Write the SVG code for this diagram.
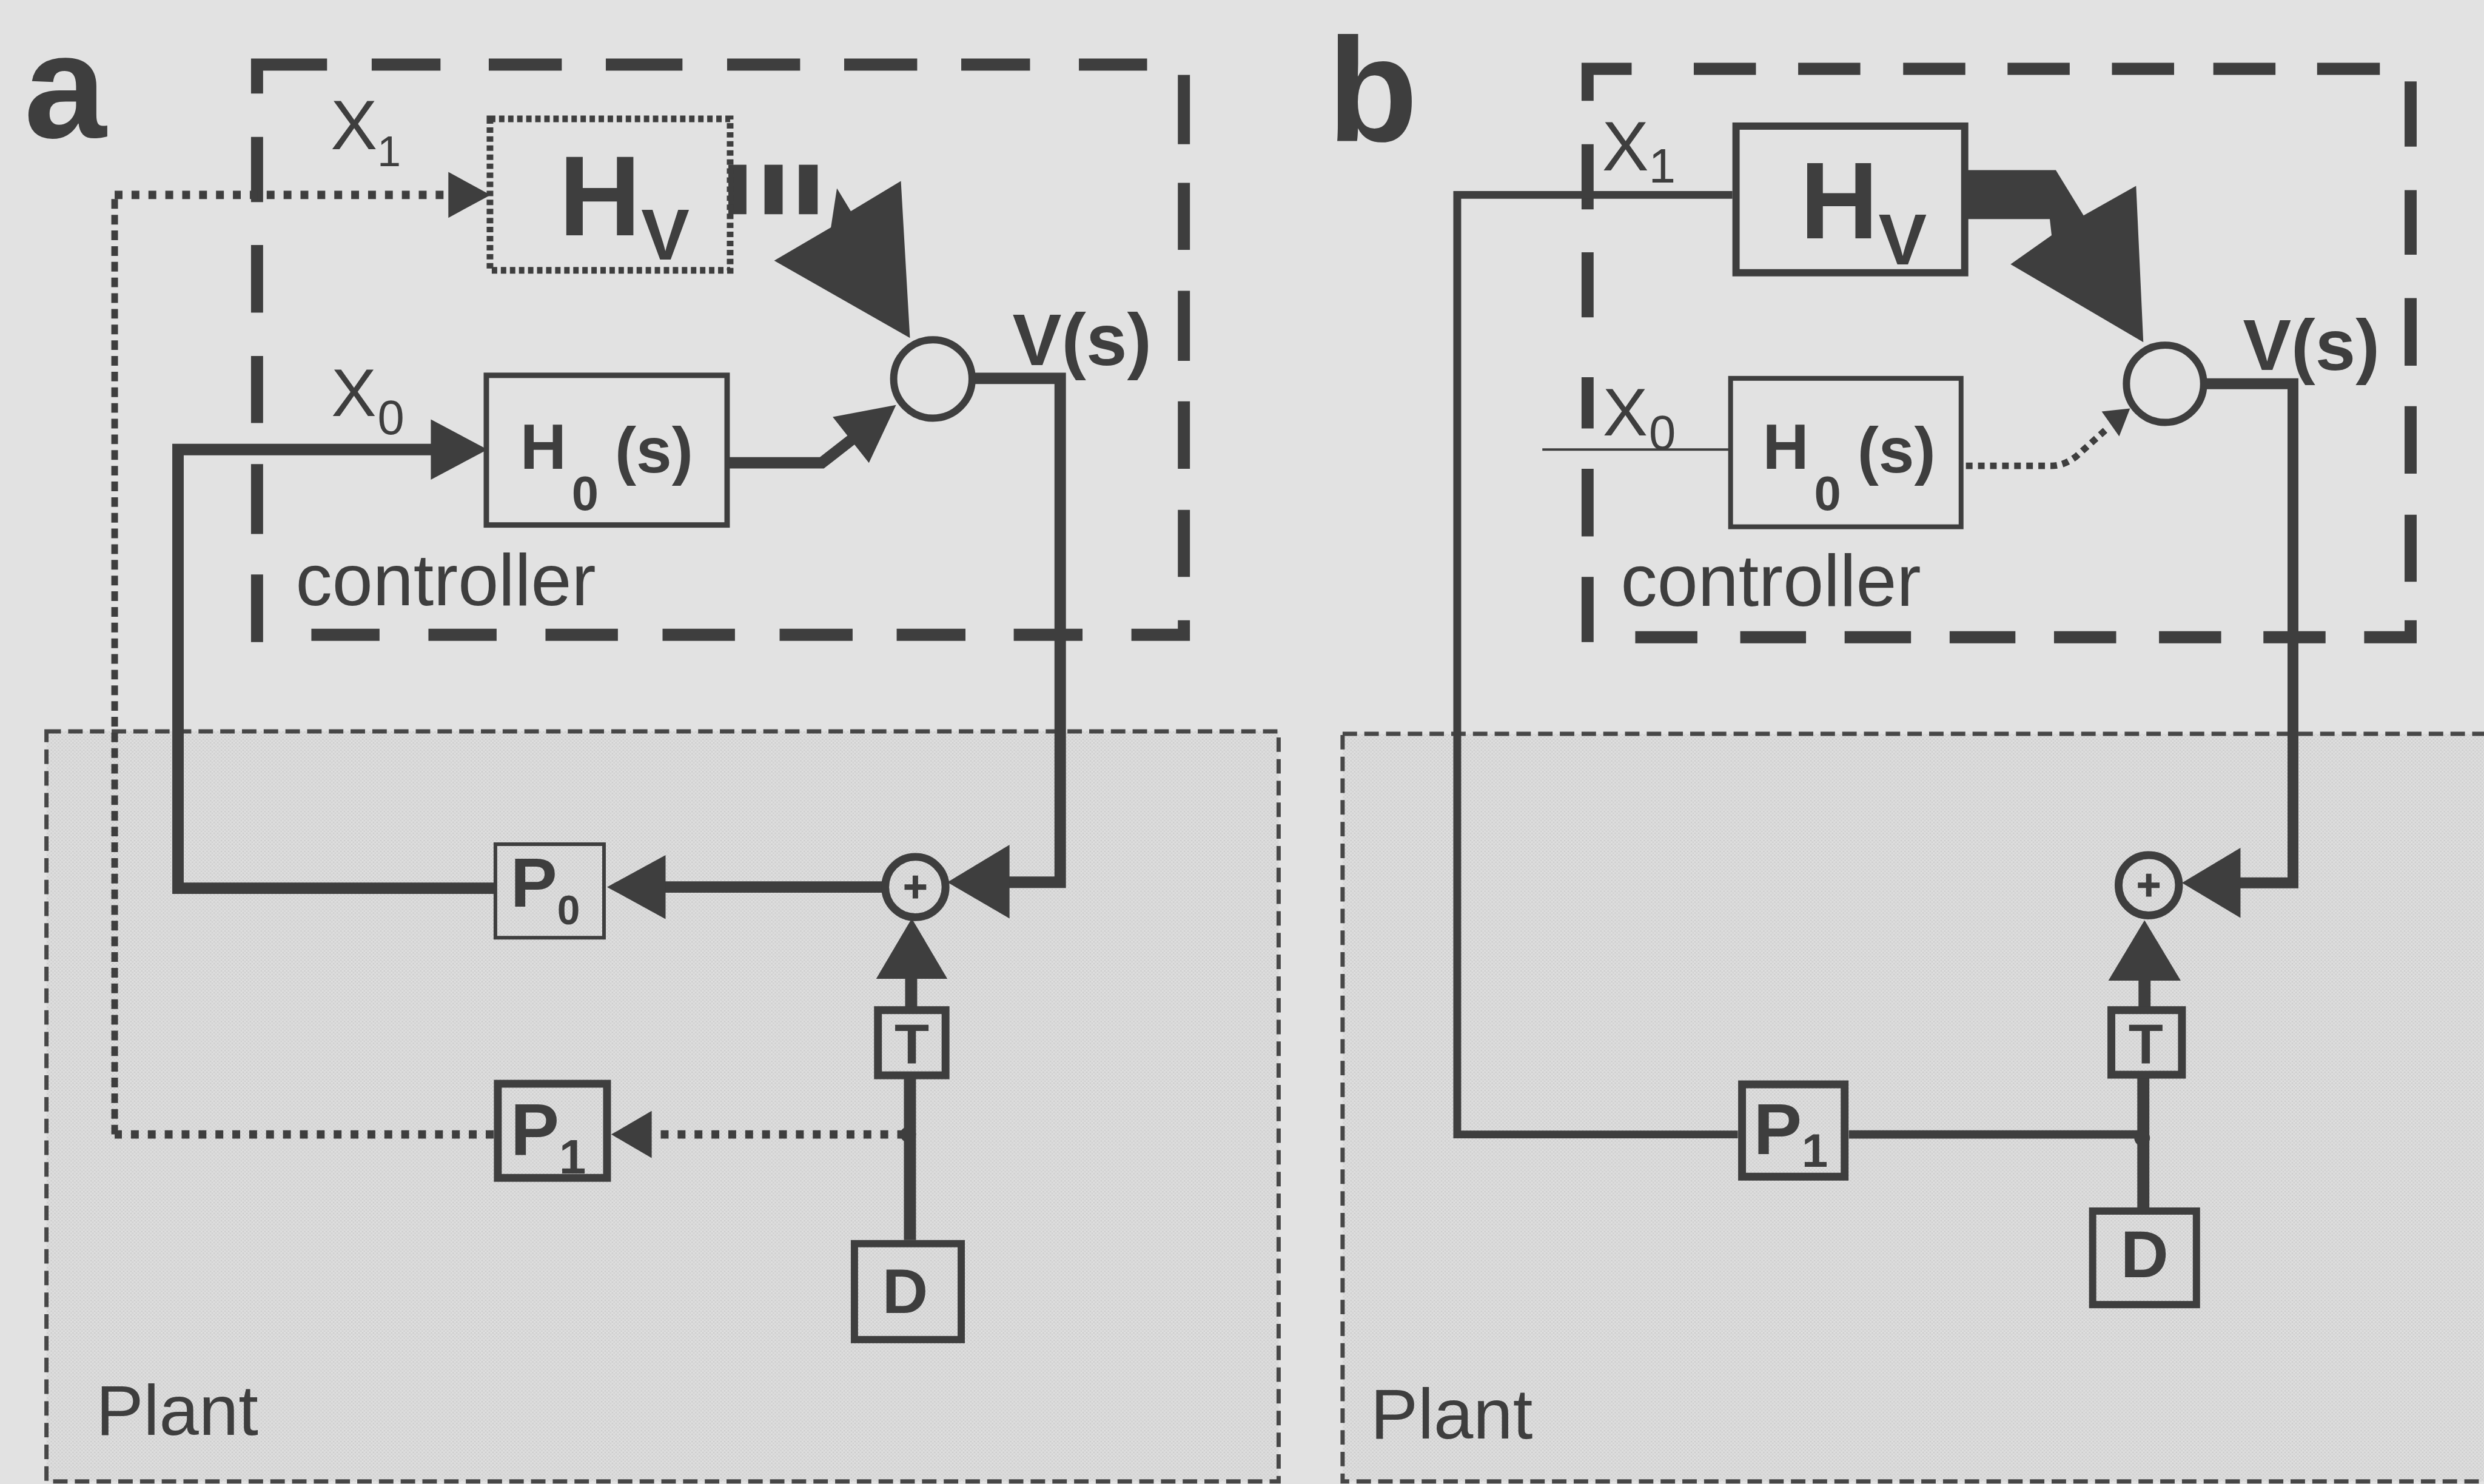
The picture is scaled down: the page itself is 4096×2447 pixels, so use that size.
<svg xmlns="http://www.w3.org/2000/svg" width="4096" height="2447" viewBox="0 0 4096 2447">
<defs>
<style>
.ink{fill:#3e3e3e;stroke:none}
.ln{fill:none;stroke:#3e3e3e;stroke-linejoin:miter;stroke-linecap:butt}
.ctl{fill:none;stroke:#3e3e3e;stroke-width:20;stroke-linecap:butt;stroke-linejoin:miter}
.plant{fill:url(#tex);stroke:#474747;stroke-width:7;stroke-dasharray:24 12}
.box{fill:none;stroke:#3e3e3e}
.t{font-family:"Liberation Sans",Arial,Helvetica,sans-serif;fill:#3e3e3e}
.bd{font-weight:bold}
</style>
<pattern id="tex" width="6" height="6" patternUnits="userSpaceOnUse">
<rect width="6" height="6" fill="#dadada"/>
<rect x="0" y="0" width="2" height="2" fill="#cbcbcb"/>
<rect x="3" y="3" width="2" height="2" fill="#cfcfcf"/>
<rect x="3" y="0" width="2" height="1" fill="#e4e4e4"/>
<rect x="0" y="3" width="1" height="2" fill="#e4e4e4"/>
</pattern>
</defs>
<rect width="4096" height="2447" fill="#e2e2e2"/>
<g transform="scale(0.995)">

<g id="plant-a"><rect class="plant" x="77" y="1212" width="2042" height="1243"/>
<text class="t" x="159" y="2378" font-size="118">Plant</text></g>
<g id="plant-b"><rect class="plant" x="2225" y="1216" width="1960" height="1239"/>
<text class="t" x="2271" y="2384" font-size="118">Plant</text></g>

<g id="controller-a">
<path class="ctl" d="M426,155 L426,107 L542,107 M616,107 L730,107 M810,107 L931,107 M1004,107 L1131,107 M1205,107 L1326,107 M1399,107 L1520,107 M1593,107 L1707,107 M1788,107 L1901,107 M1962,124 L1962,239 M1962,303 L1962,414 M1962,482 L1962,598 M1962,665 L1962,777 M1962,845 L1962,956 M1875,1052 L1962,1052 L1962,1028 M426,227 L426,335 M426,406 L426,518 M426,590 L426,701 M426,769 L426,885 M426,952 L426,1064 M516,1052 L629,1052 M710,1052 L823,1052 M904,1052 L1024,1052 M1098,1052 L1218,1052 M1292,1052 L1413,1052 M1486,1052 L1600,1052 M1680,1052 L1794,1052"/>
<text class="t" x="490" y="1003" font-size="121">controller</text>
</g>
<g id="controller-b">
<path class="ctl" d="M2631,167 L2631,114 L2704,114 M2807,114 L2910,114 M2980,114 L3083,114 M3154,114 L3257,114 M3327,114 L3430,114 M3500,114 L3603,114 M3668,114 L3771,114 M3840,114 L3944,114 M3995,135 L3995,243 M3995,315 L3995,422 M3995,494 L3995,606 M3995,673 L3995,785 M3995,853 L3995,964 M3918,1056 L3995,1056 L3995,1028 M2631,239 L2631,347 M2631,418 L2631,526 M2631,625 L2631,710 M2631,777 L2631,889 M2631,956 L2631,1064 M2710,1056 L2813,1056 M2884,1056 L2993,1056 M3057,1056 L3167,1056 M3231,1056 L3340,1056 M3404,1056 L3507,1056 M3578,1056 L3681,1056 M3751,1056 L3854,1056"/>
<text class="t" x="2686" y="1004" font-size="121">controller</text>
</g>

<g id="connectors">
<path class="ln" stroke-width="14" stroke-dasharray="13 15" d="M818,1880 L190,1880"/>
<path class="ln" stroke-width="11" stroke-dasharray="16 10" d="M190,1880 L190,323"/>
<path class="ln" stroke-width="14" stroke-dasharray="13 15" d="M190,323 L745,323"/>
<polygon class="ink" points="813,323 743,285 743,361"/>
<path class="ln" stroke-width="14" stroke-dasharray="13 15" d="M1500,1880 L1080,1880"/>
<polygon class="ink" points="1013,1880 1080,1841 1080,1919"/>
<path class="ln" stroke-width="19" d="M820,1472 L295,1472 L295,745 L720,745"/>
<polygon class="ink" points="808,745 714,695 714,795"/>
<path class="ln" stroke-width="19" d="M1205,767 L1362,767 L1412,728"/>
<polygon class="ink" points="1485,671 1380,691 1440,767"/>
<rect class="ink" x="1207" y="273" width="30" height="82"/>
<rect class="ink" x="1267" y="273" width="30" height="82"/>
<rect class="ink" x="1324" y="273" width="31" height="82"/>
<polygon class="ink" points="1283,432 1377,377 1387,312 1410,350 1493,300 1508,560"/>
<path class="ln" stroke-width="19" d="M1611,627 L1757,627 L1757,1462 L1670,1462"/>
<polygon class="ink" points="1570,1462 1673,1400 1673,1522"/>
<path class="ln" stroke-width="19" d="M1467,1470 L1100,1470"/>
<polygon class="ink" points="1006,1470 1103,1417 1103,1523"/>
<path class="ln" stroke-width="20" d="M1510,1670 L1510,1618"/>
<polygon class="ink" points="1511,1522 1452,1622 1570,1622"/>
<path class="ln" stroke-width="20" d="M1508,2055 L1508,1785"/>
<circle class="ink" cx="1505" cy="1880" r="13"/>
<path class="ln" stroke-width="13" d="M2880,1880 L2415,1880 L2415,323 L2871,323"/>
<path class="ln" stroke-width="14" d="M3064,1880 L3545,1880"/>
<path class="ln" stroke-width="20" d="M3552,2001 L3552,1785"/>
<path class="ln" stroke-width="20" d="M3554,1670 L3554,1618"/>
<polygon class="ink" points="3554,1525 3494,1625 3614,1625"/>
<circle class="ink" cx="3550" cy="1886" r="13"/>
<path class="ln" stroke-width="18" d="M3652,636 L3800,636 L3800,1463 L3710,1463"/>
<polygon class="ink" points="3616,1463 3713,1405 3713,1521"/>
<polygon class="ink" points="3253,282 3407,282 3453,357 3540,308 3552,567 3332,438 3400,390 3397,363 3253,363"/>
<path class="ln" stroke-width="11" stroke-dasharray="11 9" d="M3258,772 L3400,772 Q3420,772 3440,757 L3490,712"/>
<polygon class="ink" points="3530,677 3483,682 3512,723"/>
<path class="ln" stroke-width="4" d="M2556,745 L2866,745"/>
</g>

<g id="label-a"><text class="t bd" x="40" y="228" font-size="245">a</text></g>
<g id="label-b"><text class="t bd" x="2200" y="233" font-size="245">b</text></g>

<g id="a-X1"><text class="t" x="548" y="247" font-size="116">X<tspan font-size="70" dy="28">1</tspan></text></g>
<g id="a-X0"><text class="t" x="549" y="689" font-size="112">X<tspan font-size="80" dx="2" dy="31">0</tspan></text></g>
<g id="a-HV"><rect class="box" x="812" y="197" width="398" height="251" stroke-width="11" stroke-dasharray="9 6"/>
<text class="t bd" x="926" y="390" font-size="189">H<tspan font-size="120" dy="40">V</tspan></text></g>
<g id="a-H0"><rect class="box" x="806" y="622" width="399" height="248" stroke-width="9"/>
<text class="t bd" x="862" y="777" font-size="106">H<tspan font-size="80" dx="9" dy="68">0</tspan><tspan dx="27" dy="-62">(s)</tspan></text></g>
<g id="a-sum"><circle class="box" cx="1546" cy="628" r="65" stroke-width="12"/></g>
<g id="a-Vs"><text class="t bd" x="1678" y="605" font-size="122">V(s)</text></g>
<g id="a-P0"><rect class="box" x="821" y="1399" width="180" height="155" stroke-width="6"/>
<text class="t bd" x="846" y="1503" font-size="116">P<tspan font-size="68" dy="29">0</tspan></text></g>
<g id="a-plus"><circle class="box" cx="1517" cy="1470" r="50" stroke-width="13"/>
<path class="ln" stroke-width="9" d="M1499,1470 L1535,1470 M1517,1451 L1517,1489"/></g>
<g id="a-T"><rect class="box" x="1455" y="1674" width="112" height="108" stroke-width="13"/>
<text class="t bd" x="1511" y="1763" font-size="94" text-anchor="middle">T</text></g>
<g id="a-P1"><rect class="box" x="825" y="1796" width="181" height="156" stroke-width="13"/>
<text class="t bd" x="846" y="1914" font-size="121">P<tspan font-size="80" dy="31">1</tspan></text></g>
<g id="a-D"><rect class="box" x="1416" y="2061" width="177" height="159" stroke-width="12"/>
<text class="t bd" x="1500" y="2176" font-size="105" text-anchor="middle">D</text></g>

<g id="b-X1"><text class="t" x="2655" y="282" font-size="116">X<tspan font-size="80" dy="21">1</tspan></text></g>
<g id="b-X0"><text class="t" x="2656" y="722" font-size="112">X<tspan font-size="80" dx="2" dy="23">0</tspan></text></g>
<g id="b-HV"><rect class="box" x="2877" y="209" width="379" height="243" stroke-width="12"/>
<text class="t bd" x="2983" y="395" font-size="180">H<tspan font-size="120" dy="43">V</tspan></text></g>
<g id="b-H0"><rect class="box" x="2868" y="627" width="382" height="246" stroke-width="8"/>
<text class="t bd" x="2921" y="777" font-size="106">H<tspan font-size="80" dx="9" dy="68">0</tspan><tspan dx="27" dy="-62">(s)</tspan></text></g>
<g id="b-sum"><circle class="box" cx="3588" cy="636" r="64" stroke-width="12"/></g>
<g id="b-Vs"><text class="t bd" x="3717" y="613" font-size="120">V(s)</text></g>
<g id="b-plus"><circle class="box" cx="3561" cy="1467" r="50" stroke-width="13"/>
<path class="ln" stroke-width="9" d="M3543,1467 L3579,1467 M3561,1448 L3561,1486"/></g>
<g id="b-T"><rect class="box" x="3499" y="1674" width="117" height="107" stroke-width="13"/>
<text class="t bd" x="3556" y="1763" font-size="94" text-anchor="middle">T</text></g>
<g id="b-P1"><rect class="box" x="2887" y="1797" width="170" height="153" stroke-width="13"/>
<text class="t bd" x="2906" y="1913" font-size="120">P<tspan font-size="78" dy="21">1</tspan></text></g>
<g id="b-D"><rect class="box" x="3468" y="2007" width="172" height="155" stroke-width="12"/>
<text class="t bd" x="3554" y="2117" font-size="110" text-anchor="middle">D</text></g>

</g>
</svg>
